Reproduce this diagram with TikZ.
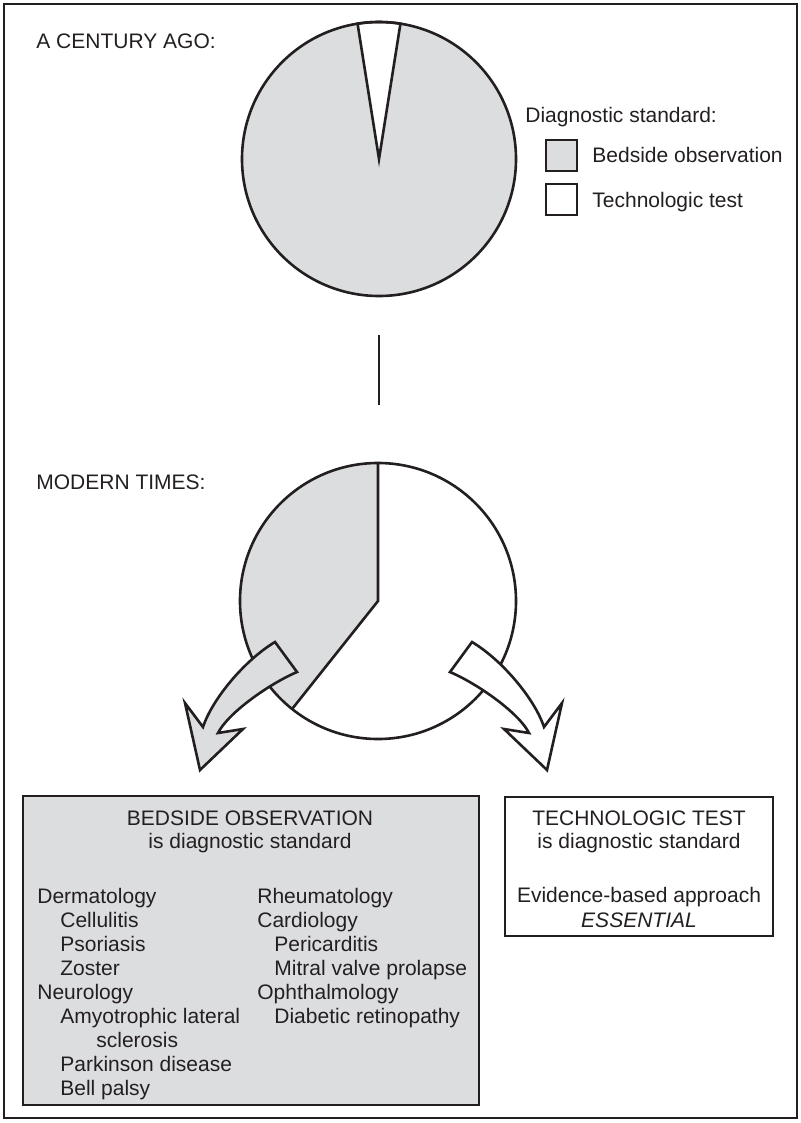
\documentclass[tikz,border=0pt]{standalone}
\usepackage{fontspec}
\setmainfont{Liberation Sans}
\definecolor{piegray}{HTML}{DCDDDF}
\definecolor{inkblack}{HTML}{231F20}

\begin{document}
\begin{tikzpicture}[x=0.5pt,y=-0.5pt,line join=miter,
    every node/.style={font=\fontsize{10.5}{12}\selectfont, text=inkblack, inner sep=0pt},
    outline/.style={draw=inkblack, line width=1.3pt},
    legbox/.style={outline, minimum size=15.5pt},
    stdbox/.style={draw=inkblack, line width=1.4pt}]
      \useasboundingbox (0,0) rectangle (801,1123);
      \draw[inkblack, line width=1pt] (4,4) rectangle (797,1118);

      % Top pie
      \coordinate (old) at (379,159);
      \fill[piegray] (old) circle (68.5pt);
      \filldraw[outline, fill=white] (old) -- ++(81:68.5pt) arc[start angle=81, end angle=99, radius=68.5pt] -- cycle;
      \draw[outline] (old) circle (68.5pt);
      \node[anchor=base west] (ago) at (36,49) {A CENTURY AGO:};

      % Legend
      \node[anchor=base west] (legtitle) at (525,123) {Diagnostic standard:};
      \node[legbox, fill=piegray] (legbed) at (561.5,155.5) {};
      \node[legbox, fill=white] (legtech) at (561.5,199.5) {};
      \node[anchor=base west] (legbedtxt) at (592,163) {Bedside observation};
      \node[anchor=base west] (legtechtxt) at (592,207) {Technologic test};

      % Gap between pies
      \coordinate (gapt) at (379,335);
      \coordinate (gapb) at (379,405);
      \draw[inkblack, line width=1.3pt] (gapt) -- (gapb);

      % Bottom pie
      \coordinate (now) at (378,601);
      \fill[white] (now) circle (69pt);
      \fill[piegray] (now) -- ++(90:69pt) arc[start angle=90, end angle=231.5, radius=69pt] -- cycle;
      \draw[outline] (now) circle (69pt);
      \draw[outline] (now) ++(90:69pt) -- (now) -- ++(231.5:69pt);
      \node[anchor=base west] (modern) at (36,489) {MODERN TIMES:};

      % Bent arrows
      \filldraw[outline, fill=piegray] (275,642) .. controls (245,660) and (212.5,698.5) .. (203,727)
        -- (185,703) -- (200,770) -- (243,729) -- (218,733) .. controls (228,713) and (269,684) .. (297,672) -- cycle;
      \filldraw[outline, fill=white] (472,642) .. controls (502,660) and (534.5,698.5) .. (544,727)
        -- (562,703) -- (547,770) -- (504,729) -- (529,733) .. controls (519,713) and (478,684) .. (450,672) -- cycle;

      % Bedside box
      \node[stdbox, fill=piegray, minimum width=228pt, minimum height=154.5pt] (bedbox) at (251,950.5) {};
      \node[anchor=base] (bedhead) at (250,825) {BEDSIDE OBSERVATION};
      \node[anchor=base] (bedsub) at (250,848) {is diagnostic standard};
      \foreach \dx/\txt [count=\i from 0] in {0/Dermatology, 23/Cellulitis, 23/Psoriasis, 23/Zoster,
          0/Neurology, 23/Amyotrophic lateral, 59/sclerosis, 23/Parkinson disease, 23/Bell palsy}
        \node[anchor=base west] (leftcol\i) at (37+\dx,903+24*\i) {\txt};
      \foreach \dx/\txt [count=\i from 0] in {0/Rheumatology, 0/Cardiology, 17/Pericarditis,
          17/Mitral valve prolapse, 0/Ophthalmology, 17/Diabetic retinopathy}
        \node[anchor=base west] (rightcol\i) at (257+\dx,903+24*\i) {\txt};

      % Technologic box
      \node[stdbox, fill=white, minimum width=134pt, minimum height=69.5pt] (techbox) at (639,866.5) {};
      \node[anchor=base] (techhead) at (639,825) {TECHNOLOGIC TEST};
      \node[anchor=base] (techsub) at (639,848) {is diagnostic standard};
      \node[anchor=base] (evid) at (639,902) {Evidence-based approach};
      \node[anchor=base] (essential) at (639,927) {\itshape ESSENTIAL};
\end{tikzpicture}
\end{document}
